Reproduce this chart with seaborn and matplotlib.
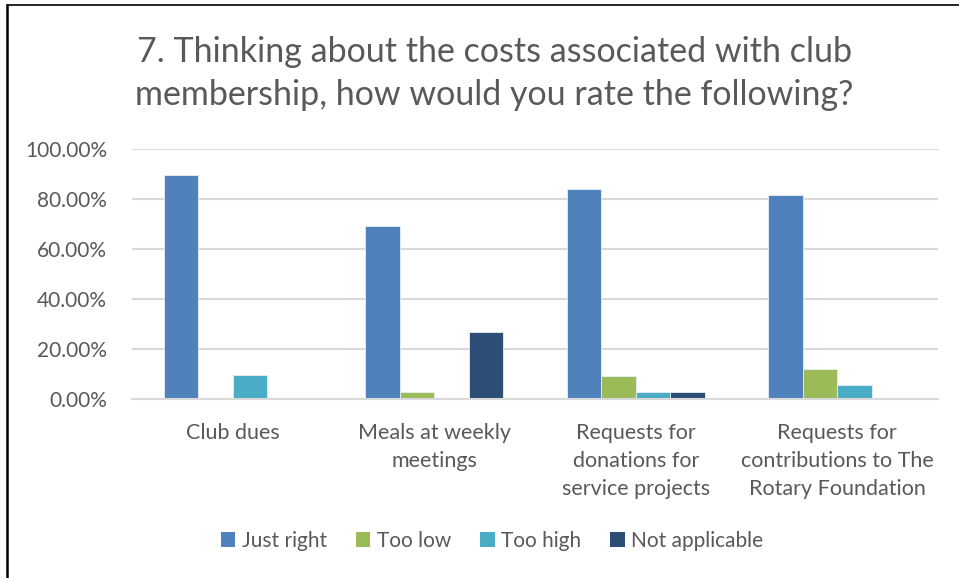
import matplotlib
matplotlib.use("Agg")
import matplotlib.pyplot as plt
from matplotlib.lines import Line2D
from matplotlib.patches import Patch
from matplotlib.ticker import FuncFormatter
import seaborn as sns
import pandas as pd

categories = ["Club dues", "Meals at weekly\nmeetings",
              "Requests for\ndonations for\nservice projects",
              "Requests for\ncontributions to The\nRotary Foundation"]
series = ["Just right", "Too low", "Too high", "Not applicable"]
just_right = [0.898, 0.694, 0.839, 0.815]
too_low = [0.0, 0.028, 0.091, 0.119]
too_high = [0.098, 0.0, 0.028, 0.058]
not_applicable = [0.0, 0.270, 0.028, 0.0]
colors = ["#4F81BD", "#9BBB59", "#4BACC6", "#2C4D75"]
yticks = [0.0, 0.2, 0.4, 0.6, 0.8, 1.0]

rows = []
for s, vals in zip(series, [just_right, too_low, too_high, not_applicable]):
    for c, v in zip(categories, vals):
        rows.append({"category": c, "series": s, "value": v})
df = pd.DataFrame(rows)

sns.set_theme(style="white")
plt.rcParams["font.family"] = ["Lato", "DejaVu Sans"]

fig = plt.figure(figsize=(9.59, 5.78), dpi=100)
ax = fig.add_axes([132/959, 1-399/578, (938-132)/959, 250/578])

sns.barplot(data=df, x="category", y="value", hue="series",
            order=categories, hue_order=series, palette=colors, saturation=1,
            width=0.685, edgecolor="#e8eef6", linewidth=0.6,
            ax=ax, legend=False)

ax.set_ylim(0, 1.0)
ax.set_xlim(-0.5, 3.5)
ax.set_yticks(yticks)
ax.yaxis.set_major_formatter(FuncFormatter(lambda v, p: f"{v*100:.2f}%"))
ax.grid(axis="y", color="#d9d9d9", linewidth=1.5)
ax.set_axisbelow(True)
for sp in ["top", "right", "left"]:
    ax.spines[sp].set_visible(False)
ax.spines["bottom"].set_color("#d9d9d9")
ax.spines["bottom"].set_linewidth(1.5)
ax.set_xlabel("")
ax.set_ylabel("")
ax.tick_params(axis="y", length=0, pad=18, labelsize=15, labelcolor="#595959")
ax.tick_params(axis="x", length=0, pad=17, labelsize=15.5, labelcolor="#595959")
for lab in ax.get_xticklabels():
    lab.set_linespacing(1.5)
    lab.set_verticalalignment("top")

fig.text(494/959, 1-73.5/578,
         "7. Thinking about the costs associated with club\nmembership, how would you rate the following?",
         ha="center", va="center", fontsize=24.5, color="#595959", linespacing=1.45)

handles = [Patch(facecolor=c, edgecolor="none") for c in colors]
fig.legend(handles, series, loc="center", bbox_to_anchor=(492/959, 1-541/578),
           ncol=4, frameon=False, fontsize=15, labelcolor="#595959",
           handlelength=0.7, handleheight=0.7, handletextpad=0.3, columnspacing=1.4)

fig.add_artist(Line2D([7/959, 1.0], [1-5/578, 1-5/578], color="black", linewidth=1.2,
                      transform=fig.transFigure))
fig.add_artist(Line2D([7/959, 7/959], [0, 1-5/578], color="black", linewidth=1.8,
                      transform=fig.transFigure))

fig.savefig("out.png", dpi=100)
